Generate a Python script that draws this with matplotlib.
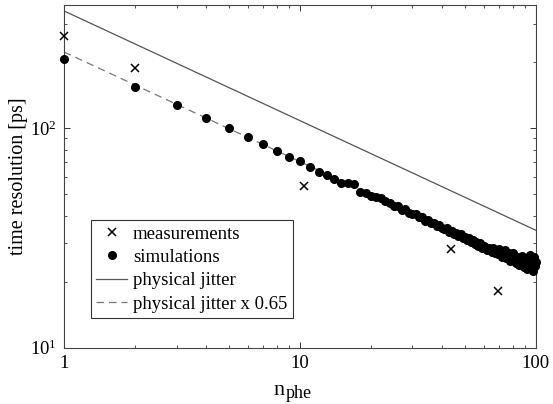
import numpy as np
import matplotlib
matplotlib.use('Agg')
import matplotlib.pyplot as plt

plt.rcParams['font.family'] = ['Liberation Serif', 'DejaVu Serif']
plt.rcParams['mathtext.fontset'] = 'custom'
plt.rcParams['mathtext.rm'] = 'Liberation Serif'
plt.rcParams['mathtext.it'] = 'Liberation Serif:italic'

# measured time resolution
meas_n = [1, 2, 10.4, 43.5, 69.2]
meas_t = [264, 189, 54.7, 28.1, 18.1]

# simulated time resolution, one point per photoelectron count
sim_n = list(range(1, 101))
sim_t = [206, 155, 128, 112, 100, 91.6, 84.7, 79.0, 74.3, 70.8,
         66.4, 63.4, 61.2, 58.7, 56.1, 56.5, 55.7, 51.3, 50.9, 49.4,
         48.5, 48.2, 46.4, 45.9, 44.2, 44.3, 42.6, 42.8, 41.2, 40.6,
         40.5, 39.4, 39.3, 38.0, 38.3, 37.0, 37.1, 35.8, 36.2, 35.1,
         34.6, 35.0, 33.8, 34.1, 33.0, 33.4, 32.3, 32.9, 31.6, 31.9,
         31.0, 31.6, 30.4, 30.9, 29.7, 30.3, 29.1, 29.9, 28.6, 29.2,
         28.9, 27.9, 28.6, 28.3, 27.2, 28.4, 27.0, 27.6, 26.6, 28.2,
         27.4, 25.9, 26.8, 27.9, 25.6, 26.3, 26.9, 24.8, 25.9, 27.1,
         25.2, 24.4, 26.0, 25.4, 23.8, 24.9, 26.3, 24.2, 23.4, 25.6,
         24.6, 22.9, 25.1, 26.4, 23.1, 24.3, 22.4, 25.8, 23.6, 24.5]

# physical jitter line (straight on log-log), end points
jit_n = [1, 100]
jit_t = [343, 34.3]
scale = 0.65

W, H = 553, 404
fig = plt.figure(figsize=(W / 100, H / 100), dpi=100)
ax = fig.add_axes([0.1157, 0.1394, 0.8533, 0.8482])

ax.plot(jit_n, jit_t, '-', color='#555555', lw=0.9, label='physical jitter')
ax.plot(jit_n, np.array(jit_t) * scale, '--', color='#777777', lw=0.9,
        dashes=(6, 4), label='physical jitter x 0.65')
ax.plot(sim_n, sim_t, 'o', color='black', ms=5.5, mec='black',
        label='simulations', zorder=3, clip_on=False)
ax.plot(meas_n, meas_t, 'x', color='black', ms=5.5, mew=1.1,
        label='measurements', zorder=4, clip_on=False)

ax.set_xscale('log')
ax.set_yscale('log')
ax.set_xlim(1, 100)
ax.set_ylim(10, 365)
ax.set_xticks([1, 10, 100])
ax.set_xticklabels(['1', '10', '100'])
ax.set_yticks([10, 100])
ax.set_yticklabels([r'$\mathregular{10^{1}}$', r'$\mathregular{10^{2}}$'])

ax.tick_params(which='both', direction='in', top=True, right=True,
               labelsize=13.5, colors='#333333', labelcolor='black')
ax.tick_params(which='major', length=4, width=0.7, pad=5)
ax.tick_params(which='minor', length=2, width=0.6)
for sp in ax.spines.values():
    sp.set_color('#444444')
    sp.set_linewidth(0.8)

ax.set_ylabel('time resolution [ps]', fontsize=14.5, labelpad=2)
# x label: n with subscript phe
fig.text(273 / W, 1 - 395 / H, 'n', fontsize=16, ha='left', va='baseline')
fig.text(286 / W, 1 - 398.5 / H, 'phe', fontsize=13, ha='left', va='baseline')

h, l = ax.get_legend_handles_labels()
order = [3, 2, 0, 1]
leg = ax.legend([h[i] for i in order], [l[i] for i in order],
                loc='lower left', bbox_to_anchor=(0.0566, 0.0858),
                borderaxespad=0, fontsize=13.5, frameon=True, fancybox=False,
                edgecolor='#333333', framealpha=1, handlelength=1.65,
                handletextpad=0.3, borderpad=0.3, labelspacing=0.33)
leg.get_frame().set_linewidth(0.8)

fig.savefig('out.png', dpi=100)
